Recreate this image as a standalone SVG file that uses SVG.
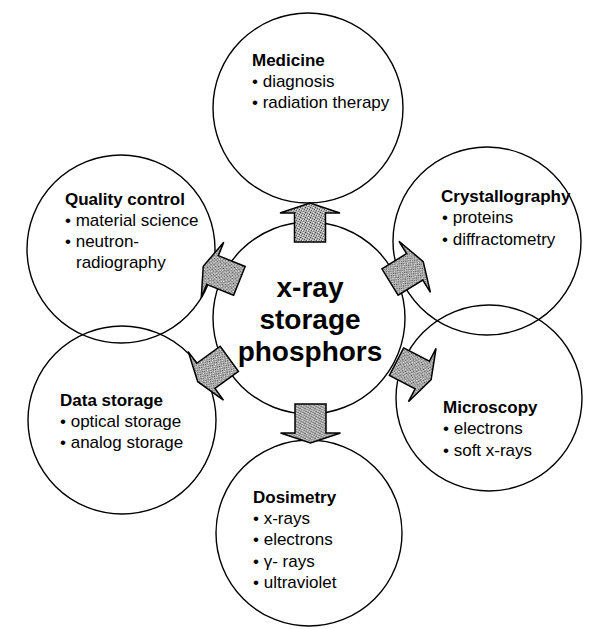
<svg xmlns="http://www.w3.org/2000/svg" width="605" height="629" viewBox="0 0 605 629">
  <style>
    .ring { fill: none; stroke: #000; stroke-width: 1.4; }
    .head { font-family: "Liberation Sans", Arial, sans-serif; font-size: 17px; font-weight: bold; fill: #000; }
    .item { font-family: "Liberation Sans", Arial, sans-serif; font-size: 17px; fill: #000; }
    .core { font-family: "Liberation Sans", Arial, sans-serif; font-size: 28px; font-weight: bold; fill: #000; text-anchor: middle; }
    .arrow { fill: url(#grain); stroke: #000; stroke-width: 1.5; stroke-linejoin: miter; }
  </style>
  <defs>
    <!-- speckled grey fill for the block arrows -->
    <pattern id="grain" width="5" height="5" patternUnits="userSpaceOnUse">
      <rect width="5" height="5" fill="#b0b0b0"/>
      <rect x="0" y="0" width="1" height="1" fill="#444"/>
      <rect x="2" y="1" width="1" height="1" fill="#666"/>
      <rect x="4" y="2" width="1" height="1" fill="#505050"/>
      <rect x="1" y="3" width="1" height="1" fill="#5a5a5a"/>
      <rect x="3" y="4" width="1" height="1" fill="#707070"/>
      <rect x="3" y="0" width="1" height="1" fill="#e6e6e6"/>
      <rect x="0" y="2" width="1" height="1" fill="#dcdcdc"/>
      <rect x="2" y="3" width="1" height="1" fill="#e0e0e0"/>
    </pattern>
    <!-- block arrow pointing up, tail centred on the origin -->
    <path id="blockArrow" d="M-15.5,0 L-15.5,-29 L-30,-29 L0,-39 L30,-29 L15.5,-29 L15.5,0 Z"/>
  </defs>

  <rect width="605" height="629" fill="#fff"/>

  <g id="node-medicine">
    <circle class="ring" cx="308" cy="108" r="95"/>
    <text class="head" x="252" y="66">Medicine</text>
    <text class="item" x="252" y="87">• diagnosis</text>
    <text class="item" x="252" y="108">• radiation therapy</text>
  </g>

  <g id="node-crystallography">
    <circle class="ring" cx="487" cy="241" r="94"/>
    <text class="head" x="441" y="202">Crystallography</text>
    <text class="item" x="442" y="223">• proteins</text>
    <text class="item" x="442" y="245">• diffractometry</text>
  </g>

  <g id="node-microscopy">
    <circle class="ring" cx="489" cy="398" r="93"/>
    <text class="head" x="443" y="413">Microscopy</text>
    <text class="item" x="443" y="434">• electrons</text>
    <text class="item" x="443" y="456">• soft x-rays</text>
  </g>

  <g id="node-dosimetry">
    <circle class="ring" cx="309" cy="533" r="93"/>
    <text class="head" x="253" y="503">Dosimetry</text>
    <text class="item" x="253" y="524">• x-rays</text>
    <text class="item" x="253" y="545">• electrons</text>
    <text class="item" x="253" y="567">• γ- rays</text>
    <text class="item" x="253" y="588">• ultraviolet</text>
  </g>

  <g id="node-data-storage">
    <circle class="ring" cx="122" cy="420" r="94"/>
    <text class="head" x="60" y="406">Data storage</text>
    <text class="item" x="60" y="427">• optical storage</text>
    <text class="item" x="60" y="448">• analog storage</text>
  </g>

  <g id="node-quality-control">
    <circle class="ring" cx="121" cy="249" r="94"/>
    <text class="head" x="65" y="205">Quality control</text>
    <text class="item" x="65" y="226">• material science</text>
    <text class="item" x="65" y="247">• neutron-</text>
    <text class="item" x="76" y="268">radiography</text>
  </g>

  <g id="node-core">
    <circle class="ring" cx="309" cy="318" r="96"/>
    <text class="core" x="310" y="297">x-ray</text>
    <text class="core" x="310" y="329">storage</text>
    <text class="core" x="310" y="361">phosphors</text>
  </g>

  <g id="connectors">
    <use href="#blockArrow" class="arrow" transform="translate(310,242)"/>
    <use href="#blockArrow" class="arrow" transform="translate(310.5,404) rotate(180)"/>
    <use href="#blockArrow" class="arrow" transform="translate(390,282) rotate(58.4)"/>
    <use href="#blockArrow" class="arrow" transform="translate(396.5,361.7) rotate(117.4)"/>
    <use href="#blockArrow" class="arrow" transform="translate(239.4,280.9) rotate(-68)"/>
    <use href="#blockArrow" class="arrow" transform="translate(229.3,358.8) rotate(-126)"/>
  </g>
</svg>
